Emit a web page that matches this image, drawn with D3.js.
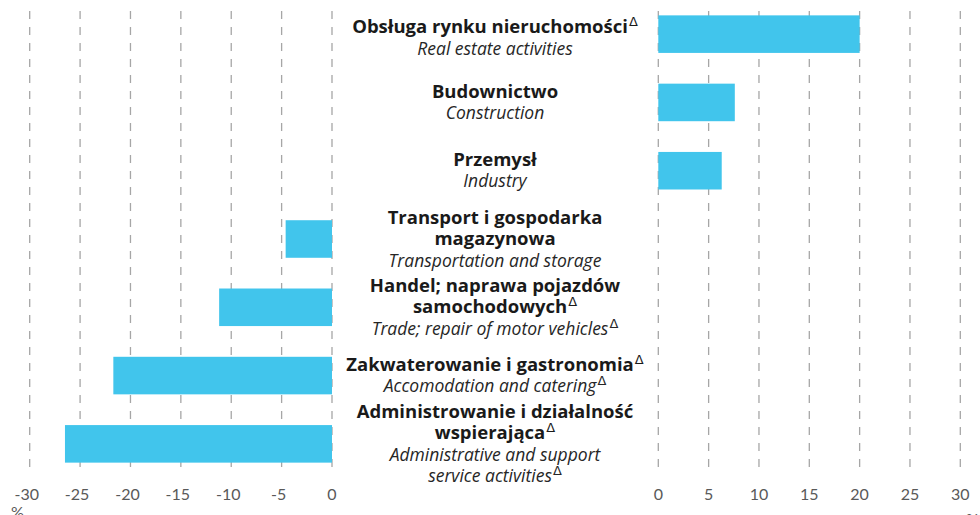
<!DOCTYPE html>
<html>
<head>
<meta charset="utf-8">
<script src="https://cdn.jsdelivr.net/npm/d3@7"></script>
<style>
body { margin: 0; background: #fff; }
.grid { stroke: #a6a6a6; stroke-width: 1.3; stroke-dasharray: 8 8; }
.bar { fill: #41c5ec; }
.tick-label { font-family: Lato, sans-serif; font-size: 16px; fill: #595959; }
.pl { font-family: 'Open Sans', sans-serif; font-size: 18.5px; font-weight: bold; fill: #1a1a1a; }
.en { font-family: 'Open Sans', sans-serif; font-size: 17.5px; font-style: italic; fill: #262626; }
.delta { font-family: 'DejaVu Sans', sans-serif; font-size: 13px; font-weight: normal; font-style: normal; }
</style>
</head>
<body>
<div id="chart"></div>
<script>
let namesPl = [
	['Obsługa rynku nieruchomości'],
	['Budownictwo'],
	['Przemysł'],
	['Transport i gospodarka', 'magazynowa'],
	['Handel; naprawa pojazdów', 'samochodowych'],
	['Zakwaterowanie i gastronomia'],
	['Administrowanie i działalność', 'wspierająca']
]
let namesEn = [
	['Real estate activities'],
	['Construction'],
	['Industry'],
	['Transportation and storage'],
	['Trade; repair of motor vehicles'],
	['Accomodation and catering'],
	['Administrative and support', 'service activities']
]
let deltaPl = [true, false, false, false, true, true, true]
let deltaEn = [false, false, false, false, true, true, true]
let values = [20.0, 7.6, 6.3, -4.6, -11.2, -21.7, -26.5]
let leftTicks = [-30, -25, -20, -15, -10, -5, 0]
let rightTicks = [0, 5, 10, 15, 20, 25, 30]

let width = 980, height = 515

let svg = d3.select('#chart')
.append('svg')
.attr('width', width)
.attr('height', height)

let rows = values.map((v, i) => ({ i, value: v, pl: namesPl[i], en: namesEn[i], dPl: deltaPl[i], dEn: deltaEn[i] }))

let y = d3.scaleBand()
.domain(rows.map(d => d.i))
.range([0, 478])
.paddingInner(0.45)
.paddingOuter(0.225)

let xLeft = d3.scaleLinear().domain([-30, 0]).range([29.7, 332])
let xRight = d3.scaleLinear().domain([0, 30]).range([658.3, 960.3])

let gridTop = 11, gridBottom = 468

// gridlines
svg.selectAll('.grid-left')
.data(leftTicks)
.join('line')
.attr('class', 'grid')
.attr('x1', d => xLeft(d)).attr('x2', d => xLeft(d))
.attr('y1', gridTop).attr('y2', gridBottom)

svg.selectAll('.grid-right')
.data(rightTicks)
.join('line')
.attr('class', 'grid')
.attr('x1', d => xRight(d)).attr('x2', d => xRight(d))
.attr('y1', gridTop).attr('y2', gridBottom)

// bars
svg.selectAll('.bar')
.data(rows)
.join('rect')
.attr('class', 'bar')
.attr('x', d => d.value < 0 ? xLeft(d.value) : xRight(0))
.attr('width', d => d.value < 0 ? xLeft(0) - xLeft(d.value) : xRight(d.value) - xRight(0))
.attr('y', d => y(d.i))
.attr('height', y.bandwidth())

// tick labels, digits centred on the line, minus sign hanging left
function tickLabels(ticks, scale) {
	let g = svg.append('g')
	ticks.forEach(t => {
		let txt = g.append('text')
		.attr('class', 'tick-label')
		.attr('x', scale(t))
		.attr('y', 500)
		.attr('text-anchor', 'middle')
		.text(Math.abs(t))
		if (t < 0) {
			let w = txt.node().getComputedTextLength()
			g.append('text')
			.attr('class', 'tick-label')
			.attr('x', scale(t) - w / 2)
			.attr('y', 500)
			.attr('text-anchor', 'end')
			.text('-')
		}
	})
}
tickLabels(leftTicks, xLeft)
tickLabels(rightTicks, xRight)

svg.append('text').attr('class', 'tick-label').attr('x', 11).attr('y', 518).text('%')
svg.append('text').attr('class', 'tick-label').attr('x', 966).attr('y', 525).text('%')

// category labels
let lineH = 21.5
let labelX = 495

let labels = svg.selectAll('.label')
.data(rows)
.join('text')
.attr('class', 'label')
.attr('text-anchor', 'middle')

labels.each(function(d) {
	let el = d3.select(this)
	let lines = d.pl.map((s, k) => ({ s, cls: 'pl', delta: d.dPl && k == d.pl.length - 1 }))
	.concat(d.en.map((s, k) => ({ s, cls: 'en', delta: d.dEn && k == d.en.length - 1 })))
	let center = y(d.i) + y.bandwidth() / 2
	let first = Math.max(33, center - (lines.length - 1) * lineH / 2 + 6)
	lines.forEach((ln, k) => {
		let t = el.append('tspan')
		.attr('class', ln.cls)
		.attr('x', labelX)
		.attr('y', first + k * lineH)
		.text(ln.s)
		if (ln.delta) {
			t.append('tspan')
			.attr('class', 'delta')
			.attr('dx', 1)
			.attr('dy', -7)
			.text('Δ')
		}
	})
})
</script>
</body>
</html>
